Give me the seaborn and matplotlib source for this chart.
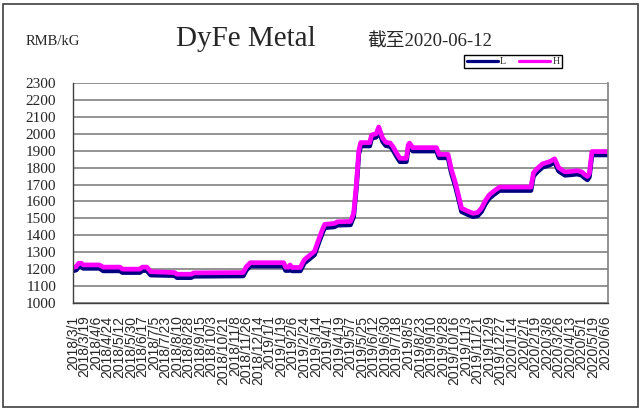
import pandas as pd
import matplotlib
matplotlib.use("Agg")
from matplotlib import pyplot as plt
from matplotlib.patches import Rectangle
import seaborn as sns

# price points (RMB/kG)
dates = ['2018-03-01', '2018-03-06', '2018-03-10', '2018-03-14', '2018-03-17', '2018-04-11',
         '2018-04-17', '2018-05-13', '2018-05-17', '2018-06-13', '2018-06-17', '2018-06-24',
         '2018-06-30', '2018-08-06', '2018-08-10', '2018-09-01', '2018-09-05', '2018-11-21',
         '2018-11-26', '2018-12-02', '2019-01-23', '2019-01-26', '2019-01-31', '2019-02-02',
         '2019-02-05', '2019-02-18', '2019-02-24', '2019-03-04', '2019-03-12', '2019-03-20',
         '2019-03-25', '2019-03-28', '2019-04-12', '2019-04-17', '2019-05-07', '2019-05-12',
         '2019-05-16', '2019-05-20', '2019-05-23', '2019-06-06', '2019-06-09', '2019-06-16',
         '2019-06-20', '2019-06-26', '2019-07-01', '2019-07-08', '2019-07-12', '2019-07-18',
         '2019-07-23', '2019-08-02', '2019-08-05', '2019-08-07', '2019-08-12', '2019-09-18',
         '2019-09-22', '2019-10-06', '2019-10-11', '2019-10-17', '2019-10-22', '2019-10-27',
         '2019-11-06', '2019-11-14', '2019-11-21', '2019-11-27', '2019-12-03', '2019-12-09',
         '2019-12-16', '2019-12-25', '2020-02-12', '2020-02-16', '2020-02-22', '2020-03-01',
         '2020-03-12', '2020-03-20', '2020-03-26', '2020-04-05', '2020-04-15', '2020-04-24',
         '2020-05-01', '2020-05-06', '2020-05-10', '2020-05-13', '2020-05-17', '2020-06-12']

low = [1190, 1195, 1215, 1215, 1205, 1205,
       1190, 1190, 1180, 1180, 1192, 1192,
       1165, 1162, 1150, 1150, 1158, 1160,
       1195, 1218, 1218, 1192, 1192, 1205,
       1190, 1190, 1235, 1260, 1285, 1370,
       1420, 1445, 1450, 1460, 1462, 1510,
       1670, 1880, 1928, 1928, 1973, 1980,
       2020, 1955, 1930, 1925, 1905, 1865,
       1835, 1835, 1915, 1925, 1898, 1898,
       1858, 1858, 1770, 1695, 1620, 1540,
       1522, 1510, 1515, 1540, 1585, 1618,
       1640, 1665, 1665, 1750, 1775, 1802,
       1815, 1832, 1780, 1755, 1758, 1762,
       1755, 1738, 1728, 1745, 1875, 1875]

high = [1210, 1215, 1235, 1235, 1225, 1225,
        1212, 1212, 1200, 1200, 1212, 1212,
        1185, 1180, 1170, 1170, 1178, 1180,
        1215, 1238, 1238, 1212, 1212, 1225,
        1210, 1210, 1255, 1280, 1305, 1390,
        1440, 1465, 1470, 1480, 1482, 1530,
        1690, 1900, 1948, 1948, 1993, 2000,
        2040, 1975, 1950, 1945, 1925, 1885,
        1855, 1855, 1935, 1945, 1918, 1918,
        1878, 1878, 1790, 1715, 1640, 1560,
        1542, 1530, 1535, 1560, 1605, 1638,
        1660, 1685, 1685, 1770, 1795, 1822,
        1835, 1852, 1800, 1775, 1778, 1782,
        1775, 1758, 1748, 1765, 1895, 1895]

tick_labels = ['2018/3/1', '2018/3/19', '2018/4/6', '2018/4/24', '2018/5/12', '2018/5/30',
               '2018/6/17', '2018/7/5', '2018/7/23', '2018/8/10', '2018/8/28', '2018/9/15',
               '2018/10/3', '2018/10/21', '2018/11/8', '2018/11/26', '2018/12/14', '2019/1/1',
               '2019/1/19', '2019/2/6', '2019/2/24', '2019/3/14', '2019/4/1', '2019/4/19',
               '2019/5/7', '2019/5/25', '2019/6/12', '2019/6/30', '2019/7/18', '2019/8/5',
               '2019/8/23', '2019/9/10', '2019/9/28', '2019/10/16', '2019/11/3', '2019/11/21',
               '2019/12/9', '2019/12/27', '2020/1/14', '2020/2/1', '2020/2/19', '2020/3/8',
               '2020/3/26', '2020/4/13', '2020/5/1', '2020/5/19', '2020/6/6']

df = pd.DataFrame({'date': pd.to_datetime(dates), 'L': low, 'H': high})
tick_dates = [pd.Timestamp(t.replace('/', '-')) for t in tick_labels]

sns.set_style('white')
plt.rcParams['font.family'] = ['Liberation Serif', 'Noto Sans CJK SC', 'DejaVu Sans']

fig = plt.figure(figsize=(6.43, 4.12), dpi=100)
ax = fig.add_axes([73 / 643, 109 / 412, 535 / 643, 220 / 412])

sns.lineplot(data=df, x='date', y='L', color='#000080', linewidth=3.4, ax=ax, label='L',
             solid_joinstyle='round')
sns.lineplot(data=df, x='date', y='H', color='#FF00FF', linewidth=3.4, ax=ax, label='H',
             solid_joinstyle='round')

ax.set_ylim(1000, 2300)
ax.set_yticks(range(1000, 2301, 100))
ax.set_xlim(pd.Timestamp('2018-03-01'), pd.Timestamp('2020-06-11'))
ax.set_xticks(tick_dates)
ax.set_xticklabels(tick_labels, rotation=90, fontsize=10, family='Liberation Sans')
ax.tick_params(axis='y', labelsize=11, direction='in', length=3, pad=12, color='#404040')
ax.tick_params(axis='x', direction='in', length=3, pad=9, color='#404040')
ax.set_xlabel('')
ax.set_ylabel('')

ax.yaxis.grid(True, color='#808080', linewidth=1.2)
ax.xaxis.grid(False)
ax.set_axisbelow(True)
for side in ['left', 'bottom']:
    ax.spines[side].set_color('#404040')
    ax.spines[side].set_linewidth(1.0)
ax.spines['top'].set_visible(False)
ax.spines['right'].set_color('#808080')
ax.spines['right'].set_linewidth(1.2)

handles, labels = ax.get_legend_handles_labels()
ax.get_legend().remove()
leg = fig.legend(handles, labels, loc='center', bbox_to_anchor=(513 / 643, 1 - 61.5 / 412),
                 ncol=2, fontsize=7, frameon=True, fancybox=False, edgecolor='black',
                 framealpha=1, handlelength=3.2, handletextpad=0.2, columnspacing=1.4,
                 borderpad=0.25)
for line in leg.get_lines():
    line.set_linewidth(2.3)

fig.text(26 / 643, 1 - 45 / 412, 'RMB/kG', fontsize=10.5, ha='left', va='baseline')
fig.text(176 / 643, 1 - 46 / 412, 'DyFe Metal', fontsize=21, ha='left', va='baseline')
fig.text(367 / 643, 1 - 46.5 / 412, '截至2020-06-12', fontsize=13.5, ha='left', va='baseline')

fig.patches.append(Rectangle((3 / 643, 5 / 412), 635 / 643, 403 / 412, transform=fig.transFigure,
                             fill=False, edgecolor='#404040', linewidth=1.2))

fig.savefig('out.png', dpi=100)
